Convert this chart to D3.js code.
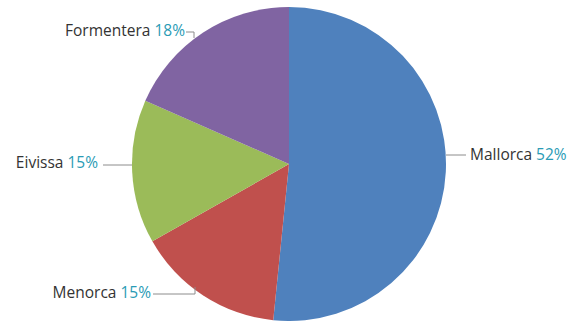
<!DOCTYPE html>
<meta charset="utf-8">
<style>
  body { margin: 0; background: #fff; }
  text { font-family: "Open Sans", "Noto Sans", sans-serif; font-size: 15.5px; }
</style>
<svg width="572" height="321"></svg>
<script src="https://d3js.org/d3.v7.min.js"></script>
<script>

var islands = ["Mallorca", "Menorca", "Eivissa", "Formentera"];
var shares = [51.6, 15.2, 14.8, 18.4];
var colors = ["#4f81bd", "#c0504d", "#9bbb59", "#8064a2"];

// label anchor, text side, leader shape per slice
var labelPos = [
  {x: 470, y: 155, anchor: "start", line: [[446, 155], [466, 155]]},
  {x: 151, y: 293, anchor: "end", line: [[153, 294], [195, 294], [195, 287]]},
  {x: 98, y: 163, anchor: "end", line: [[103, 165], [132, 165]]},
  {x: 185, y: 31, anchor: "end", line: [[186, 32], [194, 32], [194, 38]]}
];

var svg = d3.select("svg");
var cx = 289, cy = 164, radius = 157;

var pie = d3.pie().sort(null).value(function(d) { return d; });
var arc = d3.arc().innerRadius(0).outerRadius(radius);

var g = svg.append("g").attr("transform", "translate(" + cx + "," + cy + ")");

g.selectAll("path")
  .data(pie(shares))
  .enter().append("path")
  .attr("d", arc)
  .attr("fill", function(d, i) { return colors[i]; });

var line = d3.line();

svg.selectAll("path.leader")
  .data(labelPos)
  .enter().append("path")
  .attr("class", "leader")
  .attr("d", function(d) { return line(d.line); })
  .attr("fill", "none")
  .attr("stroke", "#8c8c8c")
  .attr("stroke-width", 1);

var labels = svg.selectAll("text.lbl")
  .data(islands)
  .enter().append("text")
  .attr("class", "lbl")
  .attr("x", function(d, i) { return labelPos[i].x; })
  .attr("y", function(d, i) { return labelPos[i].y; })
  .attr("dy", "0.35em")
  .attr("text-anchor", function(d, i) { return labelPos[i].anchor; });

labels.append("tspan")
  .attr("fill", "#333")
  .text(function(d) { return d + " "; });

labels.append("tspan")
  .attr("fill", "#2a9bb5")
  .text(function(d, i) { return Math.round(shares[i]) + "%"; });

</script>
